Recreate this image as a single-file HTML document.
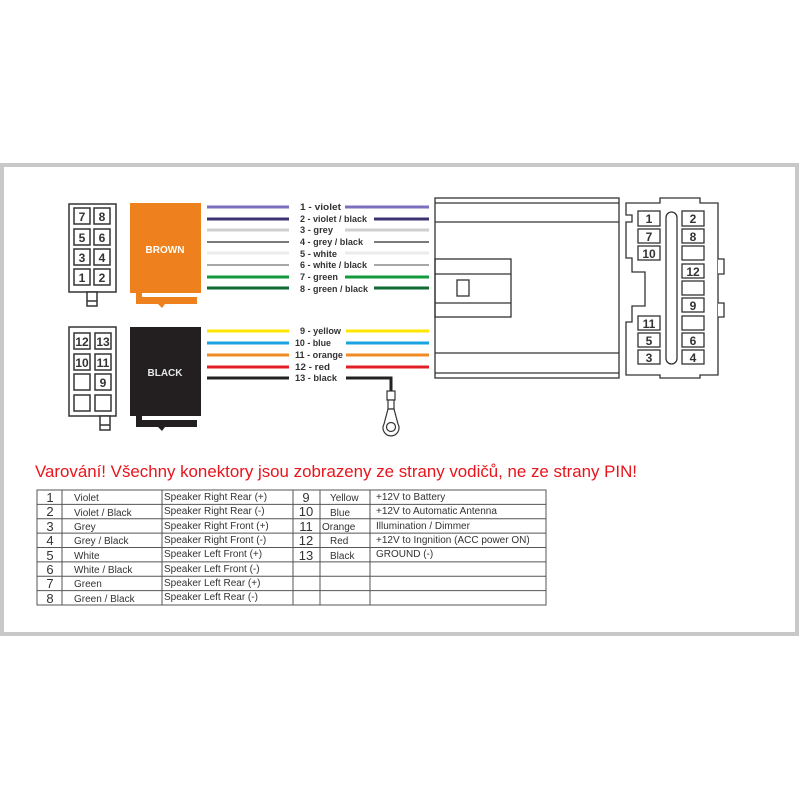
<!DOCTYPE html>
<html><head><meta charset="utf-8"><style>
html,body{margin:0;padding:0;background:#fff;}
svg{display:block;font-family:"Liberation Sans",Arial,sans-serif;}
</style></head><body>
<svg width="800" height="800" viewBox="0 0 800 800" xmlns="http://www.w3.org/2000/svg">
<rect x="0" y="0" width="800" height="800" fill="#fff"/>
<rect x="2" y="165" width="795" height="469" fill="none" stroke="#c8c8c8" stroke-width="4"/>

<!-- left connector 1 -->
<g fill="#fff" stroke="#333" stroke-width="1.5">
<rect x="69" y="204" width="47" height="88"/>
<rect x="87" y="292" width="10" height="14"/>
<line x1="87" y1="301" x2="97" y2="301"/>
<rect x="74" y="208" width="16" height="16"/><rect x="94" y="208" width="16" height="16"/>
<rect x="74" y="229" width="16" height="16"/><rect x="94" y="229" width="16" height="16"/>
<rect x="74" y="249" width="16" height="16"/><rect x="94" y="249" width="16" height="16"/>
<rect x="74" y="269" width="16" height="16"/><rect x="94" y="269" width="16" height="16"/>
</g>
<g font-size="12" font-weight="bold" fill="#333" text-anchor="middle">
<text x="82" y="221">7</text><text x="102" y="221">8</text>
<text x="82" y="242">5</text><text x="102" y="242">6</text>
<text x="82" y="262">3</text><text x="102" y="262">4</text>
<text x="82" y="282">1</text><text x="102" y="282">2</text>
</g>

<!-- left connector 2 -->
<g fill="#fff" stroke="#333" stroke-width="1.5">
<rect x="69" y="327" width="47" height="89"/>
<rect x="100" y="416" width="10" height="14"/>
<line x1="100" y1="425" x2="110" y2="425"/>
<rect x="74" y="333" width="16" height="16"/><rect x="95" y="333" width="16" height="16"/>
<rect x="74" y="354" width="16" height="16"/><rect x="95" y="354" width="16" height="16"/>
<rect x="74" y="374" width="16" height="16"/><rect x="95" y="374" width="16" height="16"/>
<rect x="74" y="395" width="16" height="16"/><rect x="95" y="395" width="16" height="16"/>
</g>
<g font-size="12" font-weight="bold" fill="#333" text-anchor="middle">
<text x="82" y="346">12</text><text x="103" y="346">13</text>
<text x="82" y="367">10</text><text x="103" y="367">11</text>
<text x="103" y="387">9</text>
</g>

<!-- brown block -->
<path d="M130 203 H201 V293 H142 V297 H197 V304 H165 L162 308 L158 304 H136 V293 H130 Z" fill="#ee801e"/>
<text x="165" y="253" font-size="10" font-weight="bold" fill="#fff" text-anchor="middle">BROWN</text>
<!-- black block -->
<path d="M130 327 H201 V416 H142 V420 H197 V427 H165 L162 431 L158 427 H136 V416 H130 Z" fill="#231f20"/>
<text x="165" y="376" font-size="10" font-weight="bold" fill="#e8e8e8" text-anchor="middle">BLACK</text>

<!-- wires -->
<g stroke-width="3">
<line x1="207" y1="207" x2="289" y2="207" stroke="#7b6fc0"/><line x1="345" y1="207" x2="429" y2="207" stroke="#7b6fc0"/>
<line x1="207" y1="219" x2="289" y2="219" stroke="#3c3370"/><line x1="374" y1="219" x2="429" y2="219" stroke="#3c3370"/>
<line x1="207" y1="230" x2="289" y2="230" stroke="#cfcfcf"/><line x1="345" y1="230" x2="429" y2="230" stroke="#cfcfcf"/>
<line x1="207" y1="242" x2="289" y2="242" stroke="#7a7a7a" stroke-width="2"/><line x1="374" y1="242" x2="429" y2="242" stroke="#7a7a7a" stroke-width="2"/>
<line x1="207" y1="253" x2="289" y2="253" stroke="#ebebeb"/><line x1="345" y1="253" x2="429" y2="253" stroke="#ebebeb"/>
<line x1="207" y1="265" x2="289" y2="265" stroke="#8a8a8a" stroke-width="1.5"/><line x1="374" y1="265" x2="429" y2="265" stroke="#8a8a8a" stroke-width="1.5"/>
<line x1="207" y1="277" x2="289" y2="277" stroke="#13993e"/><line x1="345" y1="277" x2="429" y2="277" stroke="#13993e"/>
<line x1="207" y1="288" x2="289" y2="288" stroke="#0d6a33"/><line x1="374" y1="288" x2="429" y2="288" stroke="#0d6a33"/>
<line x1="207" y1="331" x2="289" y2="331" stroke="#ffe600"/><line x1="346" y1="331" x2="429" y2="331" stroke="#ffe600"/>
<line x1="207" y1="343" x2="289" y2="343" stroke="#1aa3e0"/><line x1="346" y1="343" x2="429" y2="343" stroke="#1aa3e0"/>
<line x1="207" y1="355" x2="289" y2="355" stroke="#f08a22"/><line x1="346" y1="355" x2="429" y2="355" stroke="#f08a22"/>
<line x1="207" y1="367" x2="289" y2="367" stroke="#e21f26"/><line x1="346" y1="367" x2="429" y2="367" stroke="#e21f26"/>
<line x1="207" y1="378" x2="289" y2="378" stroke="#222"/>
<polyline points="346,378 391,378 391,392" fill="none" stroke="#222"/>
</g>
<!-- ring terminal -->
<g fill="#fff" stroke="#333" stroke-width="1.2">
<rect x="387" y="391" width="8" height="9"/>
<rect x="388" y="400" width="6" height="9"/>
<path d="M388 409 L384 424 A8 8 0 1 0 398 424 L394 409 Z"/>
<circle cx="391" cy="427" r="4.5"/>
</g>

<g font-size="9.5" font-weight="bold" fill="#333">
<text x="300" y="210" textLength="41" lengthAdjust="spacingAndGlyphs">1 - violet</text>
<text x="300" y="222" textLength="67" lengthAdjust="spacingAndGlyphs">2 - violet / black</text>
<text x="300" y="233" textLength="33" lengthAdjust="spacingAndGlyphs">3 - grey</text>
<text x="300" y="245" textLength="63" lengthAdjust="spacingAndGlyphs">4 - grey / black</text>
<text x="300" y="257" textLength="37" lengthAdjust="spacingAndGlyphs">5 - white</text>
<text x="300" y="268" textLength="67" lengthAdjust="spacingAndGlyphs">6 - white / black</text>
<text x="300" y="280" textLength="38" lengthAdjust="spacingAndGlyphs">7 - green</text>
<text x="300" y="292" textLength="68" lengthAdjust="spacingAndGlyphs">8 - green / black</text>
<text x="300" y="334" textLength="41" lengthAdjust="spacingAndGlyphs">9 - yellow</text>
<text x="295" y="346" textLength="36" lengthAdjust="spacingAndGlyphs">10 - blue</text>
<text x="295" y="358" textLength="48" lengthAdjust="spacingAndGlyphs">11 - orange</text>
<text x="295" y="370" textLength="35" lengthAdjust="spacingAndGlyphs">12 - red</text>
<text x="295" y="381" textLength="42" lengthAdjust="spacingAndGlyphs">13 - black</text>
</g>

<!-- right body -->
<g fill="none" stroke="#333" stroke-width="1.3">
<rect x="435" y="198" width="184" height="180"/>
<line x1="435" y1="203" x2="619" y2="203"/>
<line x1="435" y1="222" x2="619" y2="222"/>
<line x1="435" y1="353" x2="619" y2="353"/>
<line x1="435" y1="373" x2="619" y2="373"/>
<rect x="435" y="259" width="76" height="58"/>
<line x1="435" y1="274" x2="511" y2="274"/>
<line x1="435" y1="303" x2="511" y2="303"/>
<rect x="457" y="280" width="12" height="16"/>
</g>

<!-- right connector -->
<g fill="#fff" stroke="#333" stroke-width="1.3">
<path d="M626 203 H660 V198 H700 V203 H718 V375 H700 V378 H660 V375 H626 V322 H632 V306 H645 V272 H632 V258 H626 V222 H632 V215 H626 Z"/>
<path d="M718 259 H724 V274 H718"/>
<path d="M718 303 H724 V317 H718"/>
<rect x="666" y="212" width="11" height="152" rx="5.5"/>
<rect x="638" y="211" width="22" height="15"/><rect x="638" y="229" width="22" height="14"/><rect x="638" y="246" width="22" height="14"/>
<rect x="638" y="316" width="22" height="14"/><rect x="638" y="333" width="22" height="14"/><rect x="638" y="350" width="22" height="14"/>
<rect x="682" y="211" width="22" height="15"/><rect x="682" y="229" width="22" height="14"/><rect x="682" y="246" width="22" height="14"/>
<rect x="682" y="264" width="22" height="14"/><rect x="682" y="281" width="22" height="14"/><rect x="682" y="298" width="22" height="14"/>
<rect x="682" y="316" width="22" height="14"/><rect x="682" y="333" width="22" height="14"/><rect x="682" y="350" width="22" height="14"/>
</g>
<g font-size="12" font-weight="bold" fill="#333" text-anchor="middle">
<text x="649" y="223">1</text><text x="649" y="241">7</text><text x="649" y="258">10</text>
<text x="649" y="328">11</text><text x="649" y="345">5</text><text x="649" y="362">3</text>
<text x="693" y="223">2</text><text x="693" y="241">8</text><text x="693" y="276">12</text>
<text x="693" y="310">9</text><text x="693" y="345">6</text><text x="693" y="362">4</text>
</g>

<text x="35" y="477" font-size="17" fill="#e8141b" textLength="602" lengthAdjust="spacingAndGlyphs">Varování! Všechny konektory jsou zobrazeny ze strany vodičů, ne ze strany PIN!</text>

<!-- table -->
<g stroke="#555" stroke-width="1" fill="none">
<rect x="37" y="490" width="509" height="115"/>
<line x1="62" y1="490" x2="62" y2="605"/>
<line x1="162" y1="490" x2="162" y2="605"/>
<line x1="293" y1="490" x2="293" y2="605"/>
<line x1="320" y1="490" x2="320" y2="605"/>
<line x1="370" y1="490" x2="370" y2="605"/>
<line x1="37" y1="504.4" x2="546" y2="504.4"/>
<line x1="37" y1="518.8" x2="546" y2="518.8"/>
<line x1="37" y1="533.1" x2="546" y2="533.1"/>
<line x1="37" y1="547.5" x2="546" y2="547.5"/>
<line x1="37" y1="561.9" x2="546" y2="561.9"/>
<line x1="37" y1="576.2" x2="546" y2="576.2"/>
<line x1="37" y1="590.6" x2="546" y2="590.6"/>
</g>
<g font-size="13" fill="#333" text-anchor="middle">
<text x="50" y="502">1</text><text x="50" y="516">2</text><text x="50" y="531">3</text><text x="50" y="545">4</text>
<text x="50" y="560">5</text><text x="50" y="574">6</text><text x="50" y="588">7</text><text x="50" y="603">8</text>
<text x="306" y="502">9</text><text x="306" y="516">10</text><text x="306" y="531">11</text><text x="306" y="545">12</text><text x="306" y="560">13</text>
</g>
<g font-size="10" fill="#333">
<text x="74" y="501">Violet</text><text x="74" y="516">Violet / Black</text><text x="74" y="530">Grey</text><text x="74" y="544">Grey / Black</text>
<text x="74" y="559">White</text><text x="74" y="573">White / Black</text><text x="74" y="587">Green</text><text x="74" y="602">Green / Black</text>
<text x="164" y="500">Speaker Right Rear (+)</text><text x="164" y="514">Speaker Right Rear (-)</text>
<text x="164" y="529">Speaker Right Front (+)</text><text x="164" y="543">Speaker Right Front (-)</text>
<text x="164" y="557">Speaker Left Front (+)</text><text x="164" y="572">Speaker Left Front (-)</text>
<text x="164" y="586">Speaker Left Rear (+)</text><text x="164" y="600">Speaker Left Rear (-)</text>
<text x="330" y="501">Yellow</text><text x="330" y="516">Blue</text><text x="322" y="530">Orange</text><text x="330" y="544">Red</text><text x="330" y="559">Black</text>
<text x="376" y="500">+12V to Battery</text><text x="376" y="514">+12V to Automatic Antenna</text>
<text x="376" y="529">Illumination / Dimmer</text><text x="376" y="543">+12V to Ingnition (ACC power ON)</text>
<text x="376" y="557">GROUND (-)</text>
</g>
</svg>
</body></html>
